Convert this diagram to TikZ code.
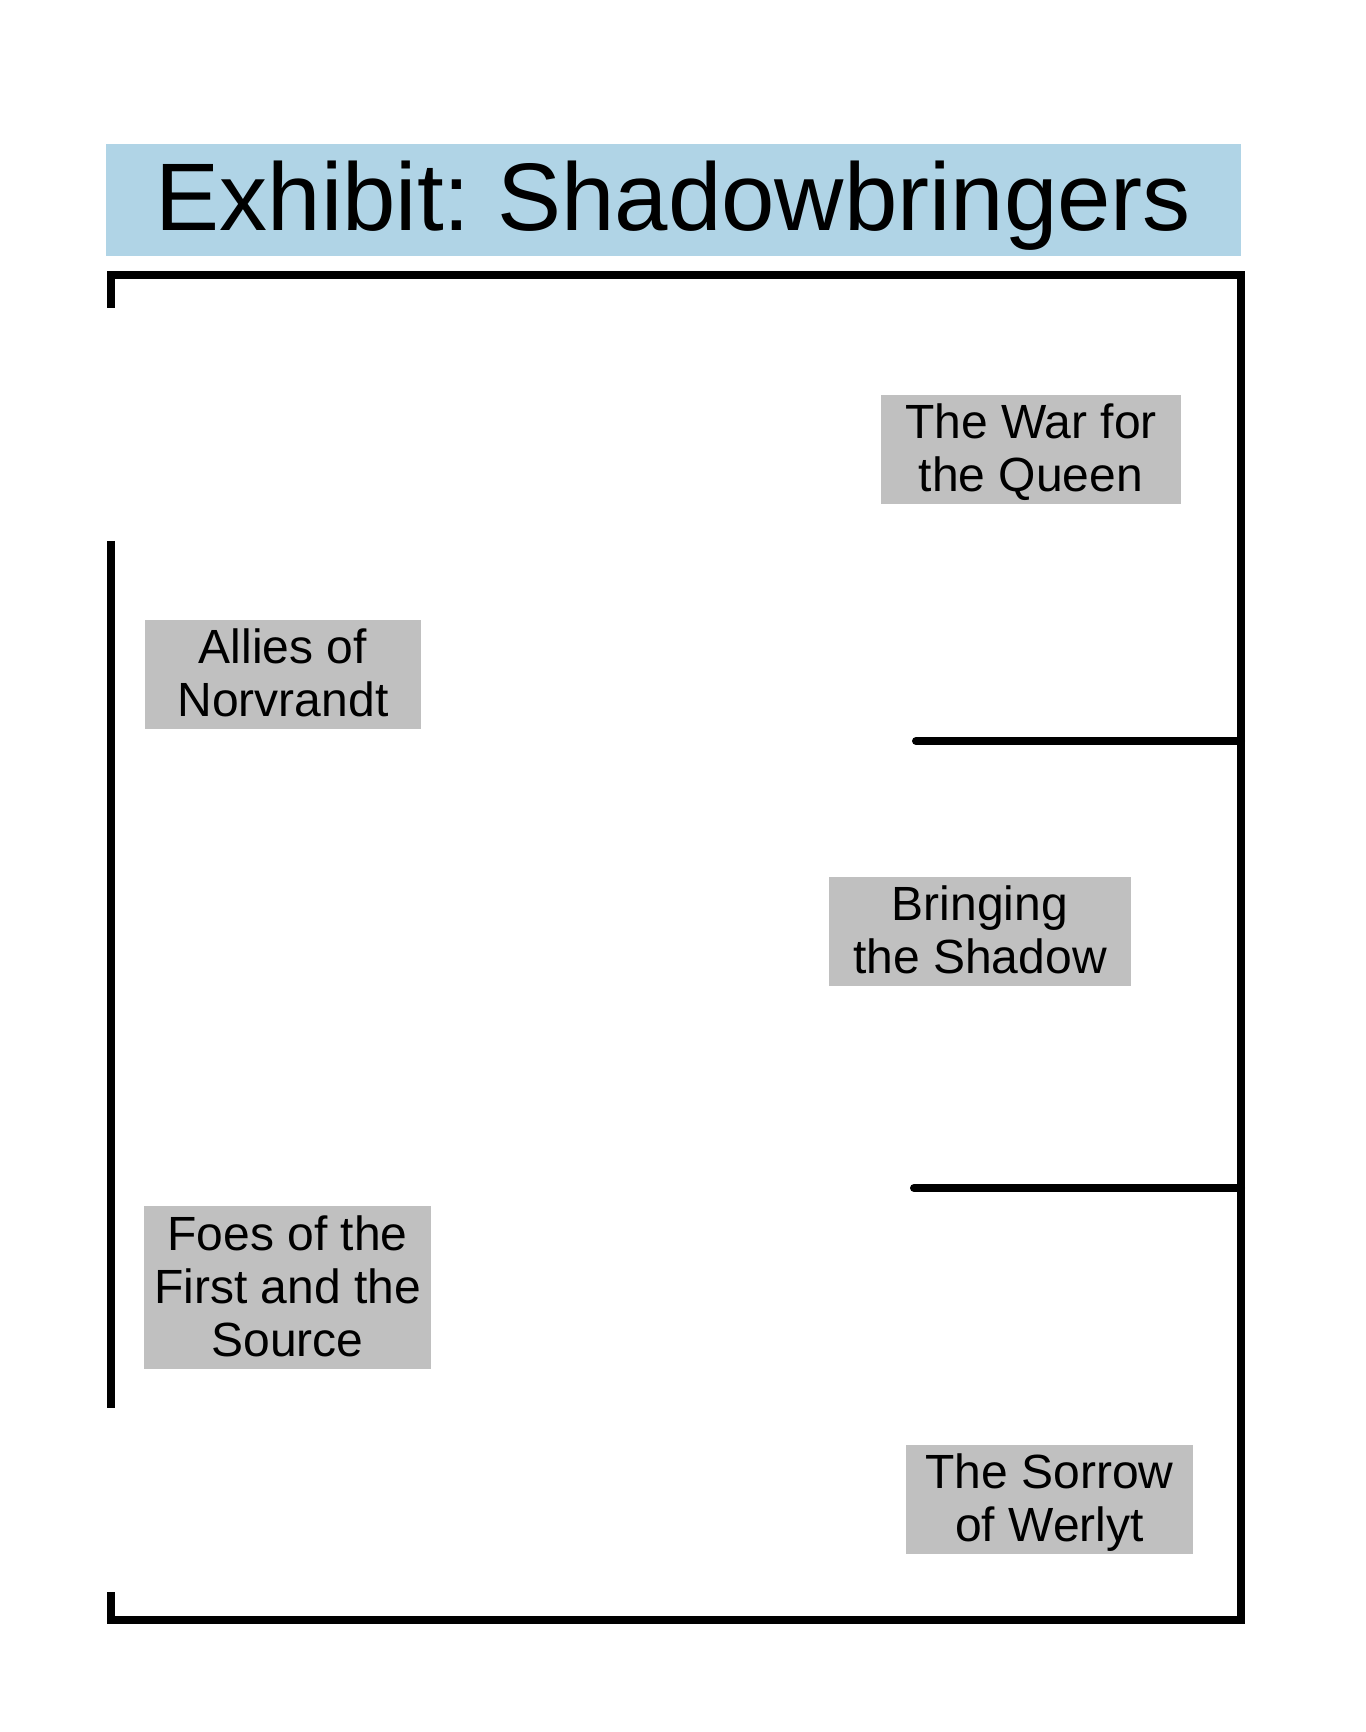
\documentclass[tikz,border=0pt]{standalone}
\usepackage{fontspec}
\setmainfont{Liberation Sans}
\frenchspacing
\definecolor{titleblue}{RGB}{176,212,230}
\definecolor{boxgray}{RGB}{192,192,192}
\newcommand\roomtext[1]{\raisebox{-2.6pt}[\height][\depth]{\begin{tabular}{@{}c@{}}#1\end{tabular}}}
\begin{document}
\begin{tikzpicture}[x=0.5pt,y=-0.5pt,
  roombox/.style={fill=boxgray, inner sep=0pt, minimum height=54.5pt,
    font=\fontsize{24}{26.5}\selectfont},
  wall/.style={line width=4pt, line join=miter}]
\useasboundingbox (0,0) rectangle (1365,1732);
\fill[white] (0,0) rectangle (1365,1732);
\node[fill=titleblue, minimum width=567.5pt, minimum height=56pt, inner sep=0pt,
  text height=36pt, text depth=5pt,
  font=\fontsize{48}{48}\selectfont] (title) at (673.5,200) {Exhibit:\ Shadowbringers};
% outer walls
\draw[wall] (111,308) -- (111,275) -- (1241,275) -- (1241,1620) -- (111,1620) -- (111,1592);
\draw[wall] (111,541) -- (111,1408);
% inner walls
\coordinate (w1a) at (916,741);
\coordinate (w1b) at (1241,741);
\coordinate (w2a) at (914,1188);
\coordinate (w2b) at (1241,1188);
\draw[wall, line cap=round] (w1a) -- (w1b);
\draw[wall, line cap=round] (w2a) -- (w2b);
% rooms
\node[roombox, minimum width=150pt] (war) at (1031,449.5) {\roomtext{The War for\\the Queen}};
\node[roombox, minimum width=138pt] (allies) at (283,674.5) {\roomtext{Allies of\\Norvrandt}};
\node[roombox, minimum width=151pt] (bringing) at (980,931.5) {\roomtext{Bringing\\the Shadow}};
\node[roombox, minimum width=143.5pt, minimum height=81.5pt] (foes) at (287.5,1287.5) {\roomtext{Foes of the\\First and the\\Source}};
\node[roombox, minimum width=143.5pt] (sorrow) at (1049.5,1499.5) {\roomtext{The Sorrow\\of Werlyt}};
\end{tikzpicture}
\end{document}
